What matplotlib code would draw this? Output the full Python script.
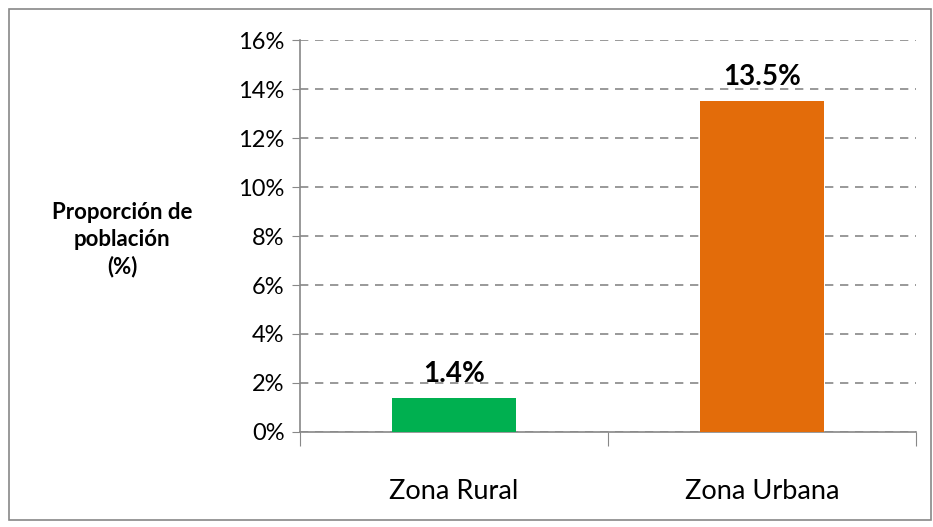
import matplotlib.pyplot as plt
from matplotlib.patches import Rectangle
from matplotlib.ticker import FixedLocator, PercentFormatter

# Data
categories = ['Zona Rural', 'Zona Urbana']
values = [1.4, 13.5]
labels = ['1.4%', '13.5%']
colors = ['#00B050', '#E36C0A']
yticks = [0, 2, 4, 6, 8, 10, 12, 14, 16]

plt.rcParams['font.family'] = ['Lato', 'DejaVu Sans']

fig = plt.figure(figsize=(9.33, 5.27), dpi=100)
ax = fig.add_axes([0.3215, 0.1803, 0.6603, 0.7437])

x = range(len(categories))
bars = ax.bar(x, values, width=0.4, color=colors, zorder=3)

for b, lab in zip(bars, labels):
    ax.text(b.get_x() + b.get_width() / 2, b.get_height() + 0.45, lab,
            ha='center', va='bottom', fontsize=20, fontweight='bold', zorder=4)

ax.set_xlim(-0.5, 1.5)
ax.set_ylim(0, 16)
ax.set_yticks(yticks)
ax.yaxis.set_major_formatter(PercentFormatter(decimals=0))
ax.tick_params(axis='y', labelsize=17, length=6, color='#888888', pad=5)

# category boundaries as major ticks, names on minor ticks
ax.xaxis.set_major_locator(FixedLocator([-0.5, 0.5, 1.5]))
ax.xaxis.set_minor_locator(FixedLocator(list(x)))
ax.set_xticklabels([])
ax.set_xticklabels(categories, minor=True)
ax.tick_params(axis='x', which='major', length=10, color='#888888')
ax.tick_params(axis='x', which='minor', length=0, labelsize=19.5, pad=34)

ax.grid(axis='y', linestyle=(0, (5, 4)), color='#888888', linewidth=1.2, zorder=0)
for s in ['top', 'right']:
    ax.spines[s].set_visible(False)
for s in ['left', 'bottom']:
    ax.spines[s].set_color('#888888')
    ax.spines[s].set_linewidth(1.2)

fig.text(0.131, 0.545, 'Proporción de\npoblación\n(%)', ha='center', va='center',
         fontsize=16, fontweight='bold', linespacing=1.35)

# outer chart border
fig.patches.append(Rectangle((0.0096, 0.013), 0.9883, 0.97, transform=fig.transFigure,
                             fill=False, edgecolor='#888888', linewidth=1.2))

fig.savefig('out.png', dpi=100)
